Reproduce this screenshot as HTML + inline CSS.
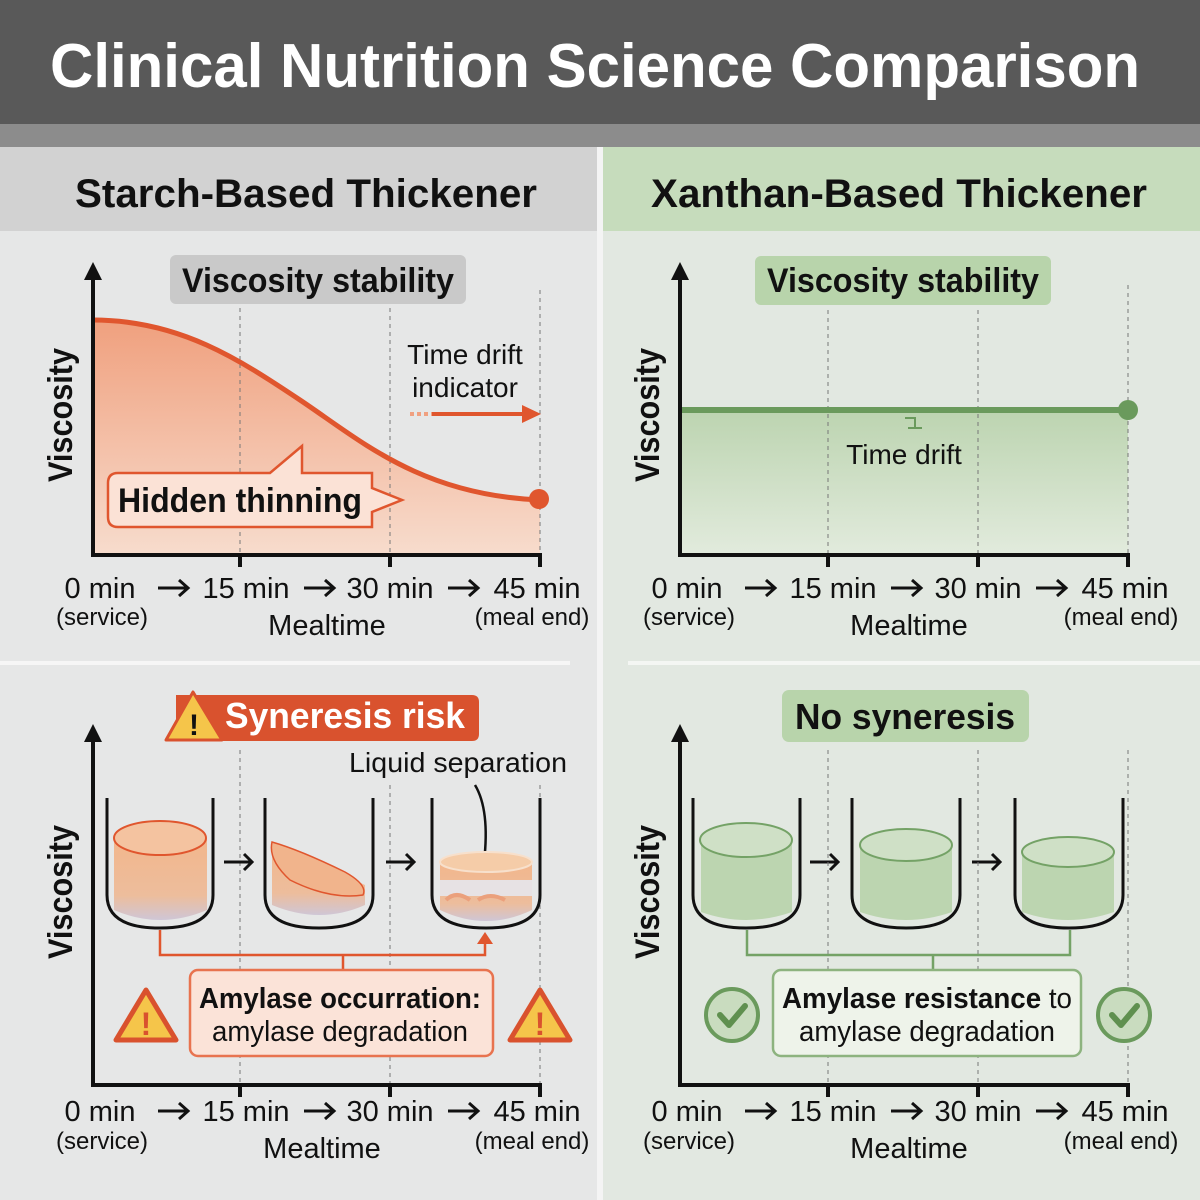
<!DOCTYPE html>
<html><head><meta charset="utf-8"><style>
html,body{margin:0;padding:0;background:#e6e7e7}
svg{display:block}
text{font-family:"Liberation Sans",sans-serif}
</style></head><body>
<svg width="1200" height="1200" viewBox="0 0 1200 1200" xmlns="http://www.w3.org/2000/svg">
<defs>
<linearGradient id="og" x1="0" y1="0" x2="0" y2="1"><stop offset="0" stop-color="#f0a07e"/><stop offset="1" stop-color="#f7dccd"/></linearGradient>
<linearGradient id="gg" x1="0" y1="0" x2="0" y2="1"><stop offset="0" stop-color="#bcd4b0"/><stop offset="1" stop-color="#e2ebdd"/></linearGradient>
<linearGradient id="ob" x1="0" y1="0" x2="0" y2="1"><stop offset="0" stop-color="#f2b68c"/><stop offset="0.7" stop-color="#edbd9c"/><stop offset="1" stop-color="#cfc6d6"/></linearGradient>
</defs>
<rect x="0" y="0" width="1200" height="1200" fill="#e6e7e7"/>
<rect x="600" y="147" width="600" height="1053" fill="#e2e8e1"/>
<rect x="0" y="0" width="1200" height="124" fill="#595959"/>
<rect x="0" y="124" width="1200" height="23" fill="#8c8c8c"/>
<text x="595" y="87" font-size="62" font-weight="bold" fill="#fff" text-anchor="middle" textLength="1090" lengthAdjust="spacingAndGlyphs">Clinical Nutrition Science Comparison</text>
<rect x="0" y="147" width="597" height="84" fill="#d2d2d2"/>
<rect x="603" y="147" width="597" height="84" fill="#c6dcbc"/>
<rect x="597" y="147" width="6" height="1053" fill="#f4f4f4"/>
<text x="306" y="207" font-size="40" font-weight="bold" fill="#111" text-anchor="middle" textLength="462" lengthAdjust="spacingAndGlyphs">Starch-Based Thickener</text>
<text x="899" y="207" font-size="40" font-weight="bold" fill="#111" text-anchor="middle" textLength="496" lengthAdjust="spacingAndGlyphs">Xanthan-Based Thickener</text>
<rect x="0" y="661" width="570" height="4" fill="#f6f6f6"/>
<rect x="628" y="661" width="572" height="4" fill="#f4f6f3"/>

<!-- ===== TOP LEFT ===== -->
<path d="M93,320 C180,320 240,360 300,400 C360,440 420,495 540,500 L540,555 L93,555 Z" fill="url(#og)"/>
<g stroke="#777" stroke-width="1" stroke-dasharray="4,4"><line x1="240" y1="300" x2="240" y2="555"/><line x1="390" y1="300" x2="390" y2="555"/><line x1="540" y1="290" x2="540" y2="555"/></g>
<path d="M93,320 C180,320 240,360 300,400 C360,440 420,495 540,500" fill="none" stroke="#e0562e" stroke-width="5"/>
<circle cx="539" cy="499" r="10" fill="#e0562e"/>
<rect x="170" y="255" width="296" height="49" rx="6" fill="#c9c9c9"/>
<text x="318" y="292" font-size="34" font-weight="bold" fill="#111" text-anchor="middle" textLength="272" lengthAdjust="spacingAndGlyphs">Viscosity stability</text>
<text x="465" y="364" font-size="28" fill="#111" text-anchor="middle">Time drift</text>
<text x="465" y="397" font-size="28" fill="#111" text-anchor="middle">indicator</text>
<line x1="410" y1="414" x2="432" y2="414" stroke="#f0a080" stroke-width="4" stroke-dasharray="4,3"/>
<line x1="432" y1="414" x2="528" y2="414" stroke="#e0562e" stroke-width="4"/>
<path d="M522,405 L541,414 L522,423 Z" fill="#e0562e"/>
<path d="M118,473 L270,473 L302,446 L302,473 L372,473 L372,488 L402,500 L372,512 L372,527 L118,527 Q108,527 108,517 L108,483 Q108,473 118,473 Z" fill="#fbe2d6" stroke="#e0562e" stroke-width="2.5"/>
<text x="240" y="512" font-size="34" font-weight="bold" fill="#111" text-anchor="middle" textLength="244" lengthAdjust="spacingAndGlyphs">Hidden thinning</text>
<g stroke="#111" stroke-width="4"><line x1="93" y1="275" x2="93" y2="556"/><line x1="91" y1="555" x2="542" y2="555"/><line x1="240" y1="555" x2="240" y2="567"/><line x1="390" y1="555" x2="390" y2="567"/><line x1="540" y1="555" x2="540" y2="567"/></g>
<path d="M84,280 L93,262 L102,280 Z" fill="#111"/>
<text transform="translate(72,415) rotate(-90)" font-size="34" font-weight="bold" fill="#111" text-anchor="middle" textLength="134" lengthAdjust="spacingAndGlyphs">Viscosity</text>

<!-- ===== TOP RIGHT ===== -->
<rect x="680" y="410" width="448" height="145" fill="url(#gg)"/>
<g stroke="#777" stroke-width="1" stroke-dasharray="4,4"><line x1="828" y1="310" x2="828" y2="555"/><line x1="978" y1="310" x2="978" y2="555"/><line x1="1128" y1="285" x2="1128" y2="555"/></g>
<line x1="680" y1="410" x2="1128" y2="410" stroke="#6a9a5c" stroke-width="6"/>
<circle cx="1128" cy="410" r="10" fill="#6a9a5c"/>
<path d="M905,418 L915,418 L915,428 M908,428 L922,428" stroke="#6a9a5c" stroke-width="2" fill="none"/>
<text x="904" y="464" font-size="28" fill="#111" text-anchor="middle">Time drift</text>
<rect x="755" y="256" width="296" height="49" rx="6" fill="#b8d4ab"/>
<text x="903" y="292" font-size="34" font-weight="bold" fill="#111" text-anchor="middle" textLength="272" lengthAdjust="spacingAndGlyphs">Viscosity stability</text>
<g stroke="#111" stroke-width="4"><line x1="680" y1="275" x2="680" y2="556"/><line x1="678" y1="555" x2="1130" y2="555"/><line x1="828" y1="555" x2="828" y2="567"/><line x1="978" y1="555" x2="978" y2="567"/><line x1="1128" y1="555" x2="1128" y2="567"/></g>
<path d="M671,280 L680,262 L689,280 Z" fill="#111"/>
<text transform="translate(659,415) rotate(-90)" font-size="34" font-weight="bold" fill="#111" text-anchor="middle" textLength="134" lengthAdjust="spacingAndGlyphs">Viscosity</text>

<!-- x labels top -->
<g font-size="29" fill="#111" text-anchor="middle">
<text x="100" y="598">0 min</text><text x="246" y="598">15 min</text><text x="390" y="598">30 min</text><text x="537" y="598">45 min</text>
<text x="687" y="598">0 min</text><text x="833" y="598">15 min</text><text x="978" y="598">30 min</text><text x="1125" y="598">45 min</text>
<text x="327" y="635">Mealtime</text><text x="909" y="635">Mealtime</text>
</g>
<g font-size="24" fill="#111" text-anchor="middle">
<text x="102" y="625">(service)</text><text x="532" y="625">(meal end)</text>
<text x="689" y="625">(service)</text><text x="1121" y="625">(meal end)</text>
</g>
<g fill="none" stroke="#111" stroke-width="3">
<path d="M158,588 h30 m-9,-8 l9,8 l-9,8"/><path d="M304,588 h30 m-9,-8 l9,8 l-9,8"/><path d="M448,588 h30 m-9,-8 l9,8 l-9,8"/>
<path d="M745,588 h30 m-9,-8 l9,8 l-9,8"/><path d="M891,588 h30 m-9,-8 l9,8 l-9,8"/><path d="M1036,588 h30 m-9,-8 l9,8 l-9,8"/>
<path d="M158,1111 h30 m-9,-8 l9,8 l-9,8"/><path d="M304,1111 h30 m-9,-8 l9,8 l-9,8"/><path d="M448,1111 h30 m-9,-8 l9,8 l-9,8"/>
<path d="M745,1111 h30 m-9,-8 l9,8 l-9,8"/><path d="M891,1111 h30 m-9,-8 l9,8 l-9,8"/><path d="M1036,1111 h30 m-9,-8 l9,8 l-9,8"/>
</g>

<!-- ===== BOTTOM LEFT ===== -->
<g stroke="#777" stroke-width="1" stroke-dasharray="4,4"><line x1="240" y1="750" x2="240" y2="1085"/><line x1="390" y1="785" x2="390" y2="1085"/><line x1="540" y1="785" x2="540" y2="1085"/></g>
<path d="M176,695 L472,695 Q479,695 479,702 L479,734 Q479,741 472,741 L176,741 Z" fill="#d9522e"/>
<text x="345" y="728" font-size="36" font-weight="bold" fill="#fff" text-anchor="middle" textLength="240" lengthAdjust="spacingAndGlyphs">Syneresis risk</text>
<path d="M193,692 L222,740 L166,740 Z" fill="#f5c54a" stroke="#d9522e" stroke-width="3" stroke-linejoin="round"/>
<text x="194" y="735" font-size="30" font-weight="bold" fill="#111" text-anchor="middle">!</text>
<text x="458" y="772" font-size="28" fill="#111" text-anchor="middle" textLength="218" lengthAdjust="spacingAndGlyphs">Liquid separation</text>
<path d="M475,785 Q490,810 484,862" fill="none" stroke="#111" stroke-width="2.5"/>
<path d="M114,838 L114,910 Q160,930 207,910 L207,838 Z" fill="url(#ob)"/>
<ellipse cx="160" cy="838" rx="46" ry="17" fill="#f4c3a0" stroke="#e0562e" stroke-width="2"/>
<path d="M272,842 Q300,855 365,885 L365,905 Q320,925 272,905 Z" fill="url(#ob)"/>
<path d="M272,842 Q300,850 345,872 Q368,885 363,895 Q330,900 290,880 Q268,860 272,842 Z" fill="#f1b48c" stroke="#e0562e" stroke-width="1.5"/>
<path d="M440,862 L440,910 Q486,932 532,910 L532,862 Z" fill="url(#ob)"/>
<ellipse cx="486" cy="862" rx="46" ry="10" fill="#f5cca8" stroke="#f7e0cc" stroke-width="2"/>
<rect x="440" y="880" width="92" height="16" fill="#e7e2e4"/>
<path d="M446,900 Q456,890 470,900 M478,900 Q490,892 505,900" stroke="#eba07c" stroke-width="4" fill="none"/>
<g fill="none" stroke="#111" stroke-width="3">
<path d="M107,798 L107,895 Q107,928 160,928 Q213,928 213,895 L213,798"/>
<path d="M265,798 L265,895 Q265,928 319,928 Q373,928 373,895 L373,798"/>
<path d="M432,798 L432,895 Q432,928 486,928 Q540,928 540,895 L540,798"/>
<path d="M224,862 h28 m-8,-8 l8,8 l-8,8"/><path d="M386,862 h28 m-8,-8 l8,8 l-8,8"/>
<path d="M810,862 h28 m-8,-8 l8,8 l-8,8"/><path d="M972,862 h28 m-8,-8 l8,8 l-8,8"/>
</g>
<path d="M160,930 L160,955 L485,955 L485,940" fill="none" stroke="#e0562e" stroke-width="2.5"/>
<path d="M477,944 L485,932 L493,944 Z" fill="#e0562e"/>
<line x1="343" y1="955" x2="343" y2="970" stroke="#e0562e" stroke-width="2.5"/>
<rect x="190" y="970" width="303" height="86" rx="8" fill="#fbe3d8" stroke="#e8734f" stroke-width="2.5"/>
<text x="340" y="1008" font-size="29" font-weight="bold" fill="#111" text-anchor="middle" textLength="282" lengthAdjust="spacingAndGlyphs">Amylase occurration:</text>
<text x="340" y="1041" font-size="29" fill="#111" text-anchor="middle" textLength="256" lengthAdjust="spacingAndGlyphs">amylase degradation</text>
<g><path d="M146,990 L176,1040 L116,1040 Z" fill="#f5c54a" stroke="#d9522e" stroke-width="5" stroke-linejoin="round"/><text x="146" y="1035" font-size="32" font-weight="bold" fill="#d9522e" text-anchor="middle">!</text></g>
<g><path d="M540,990 L570,1040 L510,1040 Z" fill="#f5c54a" stroke="#d9522e" stroke-width="5" stroke-linejoin="round"/><text x="540" y="1035" font-size="32" font-weight="bold" fill="#d9522e" text-anchor="middle">!</text></g>
<g stroke="#111" stroke-width="4"><line x1="93" y1="740" x2="93" y2="1086"/><line x1="91" y1="1085" x2="542" y2="1085"/><line x1="240" y1="1085" x2="240" y2="1097"/><line x1="390" y1="1085" x2="390" y2="1097"/><line x1="540" y1="1085" x2="540" y2="1097"/></g>
<path d="M84,742 L93,724 L102,742 Z" fill="#111"/>
<text transform="translate(72,892) rotate(-90)" font-size="34" font-weight="bold" fill="#111" text-anchor="middle" textLength="134" lengthAdjust="spacingAndGlyphs">Viscosity</text>

<!-- ===== BOTTOM RIGHT ===== -->
<g stroke="#777" stroke-width="1" stroke-dasharray="4,4"><line x1="828" y1="750" x2="828" y2="1085"/><line x1="978" y1="750" x2="978" y2="1085"/><line x1="1128" y1="750" x2="1128" y2="1085"/></g>
<rect x="782" y="690" width="247" height="52" rx="7" fill="#b8d4ab"/>
<text x="905" y="729" font-size="36" font-weight="bold" fill="#111" text-anchor="middle" textLength="220" lengthAdjust="spacingAndGlyphs">No syneresis</text>
<g fill="#bcd5b0" stroke="#74a266" stroke-width="2">
<path d="M701,840 L701,912 Q746,928 792,912 L792,840 Z" stroke="none"/>
<ellipse cx="746" cy="840" rx="46" ry="17" fill="#cfe0c6"/>
<path d="M860,845 L860,912 Q906,928 952,912 L952,845 Z" stroke="none"/>
<ellipse cx="906" cy="845" rx="46" ry="16" fill="#cfe0c6"/>
<path d="M1022,852 L1022,912 Q1068,928 1114,912 L1114,852 Z" stroke="none"/>
<ellipse cx="1068" cy="852" rx="46" ry="15" fill="#cfe0c6"/>
</g>
<g fill="none" stroke="#111" stroke-width="3">
<path d="M693,798 L693,895 Q693,928 746,928 Q800,928 800,895 L800,798"/>
<path d="M852,798 L852,895 Q852,928 906,928 Q960,928 960,895 L960,798"/>
<path d="M1015,798 L1015,895 Q1015,928 1069,928 Q1123,928 1123,895 L1123,798"/>
</g>
<path d="M747,930 L747,955 L1070,955 L1070,930 M933,955 L933,970" fill="none" stroke="#74a266" stroke-width="2.5"/>
<rect x="773" y="970" width="308" height="86" rx="8" fill="#eef3ea" stroke="#8db37f" stroke-width="2.5"/>
<text x="927" y="1008" font-size="29" fill="#111" text-anchor="middle" textLength="290" lengthAdjust="spacingAndGlyphs"><tspan font-weight="bold">Amylase resistance</tspan> to</text>
<text x="927" y="1041" font-size="29" fill="#111" text-anchor="middle" textLength="256" lengthAdjust="spacingAndGlyphs">amylase degradation</text>
<g fill="#c9dcbf" stroke="#6a9a5c" stroke-width="4"><circle cx="732" cy="1015" r="26"/><circle cx="1124" cy="1015" r="26"/></g>
<g fill="none" stroke="#5f904f" stroke-width="6" stroke-linecap="round" stroke-linejoin="round"><path d="M720,1015 L729,1025 L745,1006"/><path d="M1112,1015 L1121,1025 L1137,1006"/></g>
<g stroke="#111" stroke-width="4"><line x1="680" y1="740" x2="680" y2="1086"/><line x1="678" y1="1085" x2="1130" y2="1085"/><line x1="828" y1="1085" x2="828" y2="1097"/><line x1="978" y1="1085" x2="978" y2="1097"/><line x1="1128" y1="1085" x2="1128" y2="1097"/></g>
<path d="M671,742 L680,724 L689,742 Z" fill="#111"/>
<text transform="translate(659,892) rotate(-90)" font-size="34" font-weight="bold" fill="#111" text-anchor="middle" textLength="134" lengthAdjust="spacingAndGlyphs">Viscosity</text>

<!-- x labels bottom -->
<g font-size="29" fill="#111" text-anchor="middle">
<text x="100" y="1121">0 min</text><text x="246" y="1121">15 min</text><text x="390" y="1121">30 min</text><text x="537" y="1121">45 min</text>
<text x="687" y="1121">0 min</text><text x="833" y="1121">15 min</text><text x="978" y="1121">30 min</text><text x="1125" y="1121">45 min</text>
<text x="322" y="1158">Mealtime</text><text x="909" y="1158">Mealtime</text>
</g>
<g font-size="24" fill="#111" text-anchor="middle">
<text x="102" y="1149">(service)</text><text x="532" y="1149">(meal end)</text>
<text x="689" y="1149">(service)</text><text x="1121" y="1149">(meal end)</text>
</g>
</svg>
</body></html>
